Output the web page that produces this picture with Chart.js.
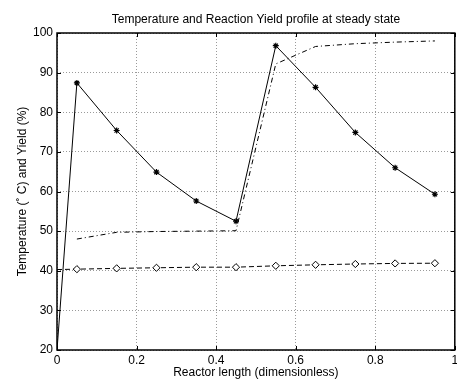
<!DOCTYPE html>
<html><head><meta charset="utf-8">
<script src="https://cdn.jsdelivr.net/npm/chart.js@4/dist/chart.umd.min.js"></script>
<style>
html,body{margin:0;padding:0;background:#fff;overflow:hidden;width:457px;height:381px}
#wrap{width:457px;height:381px;overflow:hidden;position:relative}
canvas{display:block}
</style></head>
<body><div id="wrap"><canvas id="c" width="460" height="381" style="width:460px;height:381px"></canvas></div>
<script>
// ---- data ----
const tempPositions = [0, 0.05, 0.15, 0.25, 0.35, 0.45, 0.55, 0.65, 0.75, 0.85, 0.95];
const temperatureProfile = [20, 87.4, 75.4, 64.9, 57.6, 52.5, 96.8, 86.3, 74.9, 66.0, 59.3];

const yieldPositions = [0.05, 0.15, 0.25, 0.35, 0.45, 0.55, 0.65, 0.75, 0.85, 0.95];
const yieldProfile = [48.0, 49.7, 49.9, 50.0, 50.1, 92.2, 96.6, 97.3, 97.7, 98.0];

const diamondPositions = [0, 0.05, 0.15, 0.25, 0.35, 0.45, 0.55, 0.65, 0.75, 0.85, 0.95];
const diamondProfile = [40.3, 40.4, 40.6, 40.75, 40.9, 40.9, 41.25, 41.5, 41.7, 41.85, 41.9];

const xTicks = [0, 0.2, 0.4, 0.6, 0.8, 1];
const yTicks = [20, 30, 40, 50, 60, 70, 80, 90, 100];

const titleText = 'Temperature and Reaction Yield profile at steady state';
const xTitle = 'Reactor length (dimensionless)';
const yTitle = 'Temperature (\u02DA C) and Yield (%)';

// ---- build ----
const pts = (xs, ys) => xs.map((x, i) => ({x: x, y: ys[i]}));

Chart.defaults.font.family = "'Liberation Sans', Arial, Helvetica, sans-serif";
Chart.defaults.font.size = 12;
Chart.defaults.color = '#000';

const framePlugin = {
  id: 'frame',
  afterDraw(chart) {
    const {ctx, chartArea: a, scales: {x, y}} = chart;
    ctx.save();
    ctx.strokeStyle = '#000';
    ctx.lineWidth = 1.5;
    ctx.strokeRect(a.left, a.top, a.right - a.left, a.bottom - a.top);
    ctx.lineWidth = 1;
    ctx.beginPath();
    x.ticks.forEach(t => {
      const p = Math.round(x.getPixelForValue(t.value)) + 0.5;
      ctx.moveTo(p, a.bottom); ctx.lineTo(p, a.bottom - 4);
      ctx.moveTo(p, a.top); ctx.lineTo(p, a.top + 4);
    });
    y.ticks.forEach(t => {
      const p = Math.round(y.getPixelForValue(t.value)) + 0.5;
      ctx.moveTo(a.left, p); ctx.lineTo(a.left + 4, p);
      ctx.moveTo(a.right, p); ctx.lineTo(a.right - 4, p);
    });
    ctx.stroke();
    ctx.restore();
  }
};

new Chart(document.getElementById('c'), {
  type: 'line',
  data: {
    datasets: [
      {
        data: pts(tempPositions, temperatureProfile),
        borderColor: '#000', borderWidth: 1, tension: 0,
        pointStyle: 'star',
        pointRadius: tempPositions.map((_, i) => i === 0 ? 0 : 3),
        pointBorderColor: '#000', pointBorderWidth: 1.2,
        pointBackgroundColor: '#000'
      },
      {
        data: pts(yieldPositions, yieldProfile),
        borderColor: '#000', borderWidth: 1, tension: 0,
        borderDash: [5, 3, 1, 3],
        pointRadius: 0
      },
      {
        data: pts(diamondPositions, diamondProfile),
        borderColor: '#000', borderWidth: 1, tension: 0,
        borderDash: [5, 3],
        pointStyle: 'rectRot',
        pointRadius: diamondPositions.map((_, i) => i === 0 ? 0 : 3.6),
        pointBorderColor: '#000', pointBorderWidth: 1,
        pointBackgroundColor: '#fff'
      }
    ]
  },
  options: {
    responsive: false,
    animation: false,
    events: [],
    layout: {padding: {left: 0, right: 1.5, top: 0, bottom: 0}},
    plugins: {
      legend: {display: false},
      tooltip: {enabled: false},
      title: {
        display: true, text: titleText, fullSize: false,
        font: {size: 12, weight: 'normal'}, color: '#000',
        padding: {top: 12, bottom: 6.6}
      }
    },
    scales: {
      x: {
        type: 'linear', min: 0, max: 1,
        afterBuildTicks: s => { s.ticks = xTicks.map(v => ({value: v})); },
        afterFit: s => { s.height = 31; s.paddingLeft = 0; s.paddingRight = 0; },
        ticks: {padding: 3, maxRotation: 0, autoSkip: false,
                callback: v => String(Number(v.toFixed(1)))},
        grid: {color: '#9a9a9a', lineWidth: 1, drawTicks: false},
        border: {display: false, dash: [1, 2]},
        title: {display: true, text: xTitle, font: {size: 12}, padding: {top: 0, bottom: 0.8}}
      },
      y: {
        type: 'linear', min: 20, max: 100,
        afterBuildTicks: s => { s.ticks = yTicks.map(v => ({value: v})); },
        afterFit: s => { s.width = 57; s.paddingTop = 0; s.paddingBottom = 0; },
        ticks: {padding: 4, autoSkip: false},
        grid: {color: '#9a9a9a', lineWidth: 1, drawTicks: false},
        border: {display: false, dash: [1, 2]},
        title: {display: true, text: yTitle, font: {size: 12}, padding: {top: 15, bottom: 0}}
      }
    }
  },
  plugins: [framePlugin]
});
</script>
</body></html>
